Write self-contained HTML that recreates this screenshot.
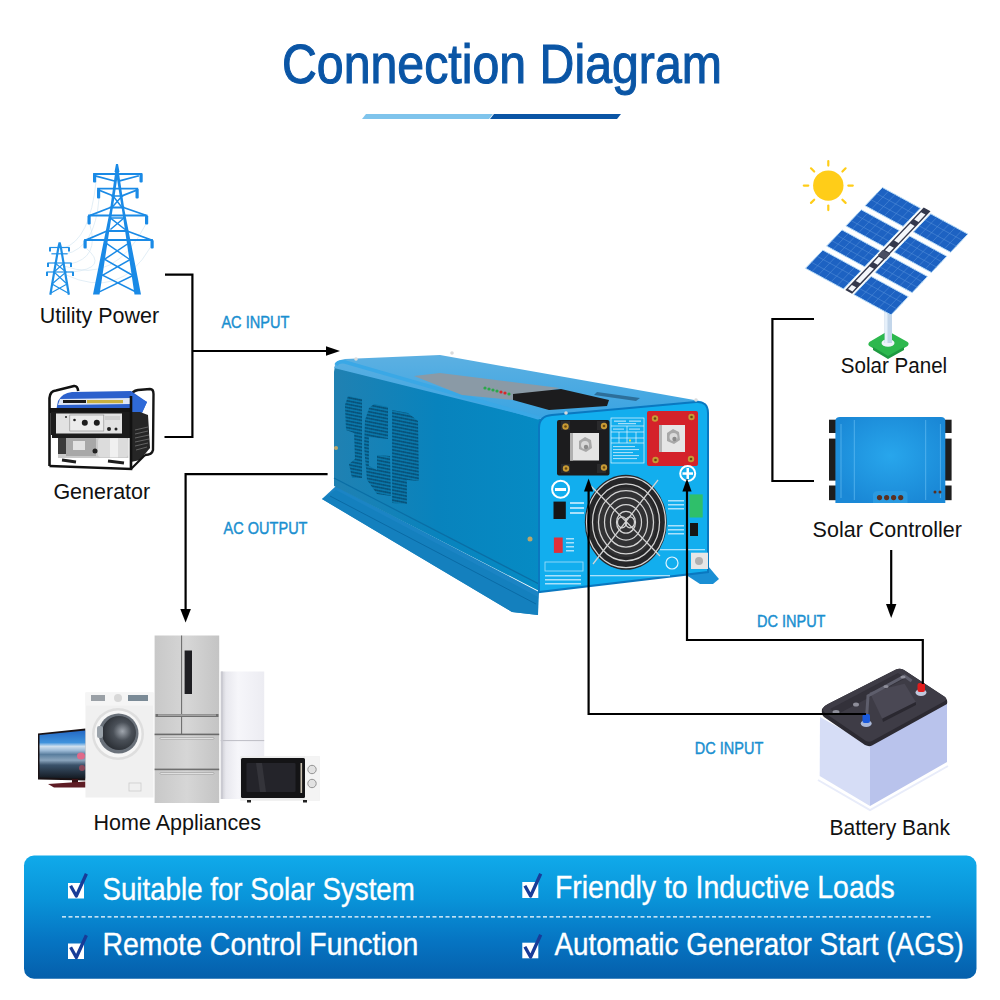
<!DOCTYPE html>
<html><head><meta charset="utf-8">
<style>
html,body{margin:0;padding:0;background:#fff;width:1000px;height:1000px;overflow:hidden}
svg{display:block}
text{font-family:"Liberation Sans",sans-serif}
</style></head>
<body>
<svg width="1000" height="1000" viewBox="0 0 1000 1000">
<defs>
<linearGradient id="banner" x1="0" y1="0" x2="0" y2="1">
<stop offset="0" stop-color="#10aaea"/>
<stop offset="0.35" stop-color="#0994d9"/>
<stop offset="0.7" stop-color="#0674c2"/>
<stop offset="1" stop-color="#055fab"/>
</linearGradient>

<linearGradient id="sideg" x1="0" y1="0" x2="1" y2="0">
<stop offset="0" stop-color="#2081b2"/><stop offset="0.5" stop-color="#0883bd"/><stop offset="1" stop-color="#068bc4"/>
</linearGradient>
<linearGradient id="topg" x1="0" y1="0" x2="0" y2="1">
<stop offset="0" stop-color="#5cb0e2"/><stop offset="1" stop-color="#3aa4e2"/>
</linearGradient>
<pattern id="vent" width="2" height="3.35" patternUnits="userSpaceOnUse" patternTransform="skewY(11)">
<rect x="0" y="0" width="2" height="3.35" fill="#0a86bd"/>
<rect x="0.4" y="0.6" width="1.25" height="2.2" fill="#06304e"/>
</pattern>

<linearGradient id="tvg" x1="0" y1="0" x2="0" y2="1">
<stop offset="0" stop-color="#2468c4"/><stop offset="0.25" stop-color="#3e92dc"/><stop offset="0.33" stop-color="#cfe0ee"/><stop offset="0.42" stop-color="#9ab8d4"/><stop offset="0.5" stop-color="#5a7e9e"/><stop offset="0.62" stop-color="#8aa4bc"/><stop offset="0.72" stop-color="#3a526a"/><stop offset="1" stop-color="#141a22"/>
</linearGradient>
<linearGradient id="steel" x1="0" y1="0" x2="1" y2="0">
<stop offset="0" stop-color="#c8c8c8"/><stop offset="0.5" stop-color="#d6d6d6"/><stop offset="1" stop-color="#c4c4c4"/>
</linearGradient>
<linearGradient id="whitef" x1="0" y1="0" x2="1" y2="0">
<stop offset="0" stop-color="#c8c8ce"/><stop offset="0.12" stop-color="#e8e8ee"/><stop offset="0.4" stop-color="#f6f6fa"/><stop offset="1" stop-color="#ececf2"/>
</linearGradient>

<linearGradient id="pv" x1="0" y1="0" x2="1" y2="1">
<stop offset="0" stop-color="#2167c0"/><stop offset="1" stop-color="#1955b0"/>
</linearGradient>
<radialGradient id="ctrlg" cx="0.5" cy="0.45" r="0.6">
<stop offset="0" stop-color="#28a6ec"/><stop offset="1" stop-color="#1a88d6"/>
</radialGradient>
<radialGradient id="drum" cx="0.6" cy="0.45" r="0.6"><stop offset="0" stop-color="#a0a6ae"/><stop offset="0.45" stop-color="#4a5058"/><stop offset="1" stop-color="#2a2e34"/></radialGradient>
</defs>
<!-- Title -->
<text id="t-title" font-size="55" fill="#0a55a5" stroke="#0a55a5" stroke-width="1.1" transform="translate(282 83) scale(0.8776 1)">Connection Diagram</text>
<polygon points="366,114 493,114 489,119 362,119" fill="#7fc4ec"/>
<polygon points="494,114 621,114 617,119 490,119" fill="#0a55a5"/>


<!-- INVERTER -->
<g id="inverter">
<!-- foot flange left -->
<polygon points="322,499 336,486 539,592 538,615 512,612" fill="#1b84c4"/>
<polygon points="322,499 336,490 538,597 538,615 512,612" fill="#1480be"/>
<line x1="330" y1="496" x2="536" y2="604" stroke="#0a6aa5" stroke-width="1"/>
<!-- side face -->
<path d="M334,372 Q334,362 343,364 L541,419 L541,592 L334,486 Z" fill="url(#sideg)"/>
<line x1="334" y1="478" x2="539" y2="584" stroke="#0a6ea5" stroke-width="1.2"/>
<!-- top face -->
<path d="M334,368 Q335,360 345,359 L440,355 L700,401 Q708,403 706,410 L539,419 Z" fill="url(#topg)"/>
<!-- rounded edge highlight between top and side -->
<path d="M336,365 Q338,361 345,362 L539,418" stroke="#3aa8e6" stroke-width="3.5" fill="none"/>
<!-- grey display strip -->
<polygon points="414,376 440,373 560,388 512,400 462,395" fill="#8a9aa6"/>
<polygon points="513,394 561,389 609,400 607,406 549,410 513,400" fill="#1c1c1e"/>
<g fill="#2aa84a"><circle cx="485" cy="388" r="1.6"/><circle cx="489" cy="389" r="1.6"/><circle cx="493" cy="390" r="1.6"/><circle cx="497" cy="391" r="1.6"/></g>
<g fill="#d8262a"><circle cx="501" cy="392" r="1.6"/><circle cx="505" cy="393" r="1.6"/></g>
<circle cx="509" cy="394" r="1.6" fill="#2aa84a"/>
<polygon points="597,392 640,398 636,401 594,395" fill="#2d6f9a"/>
<!-- right foot -->
<polygon points="680,571 708,566 719,579 713,584 700,584" fill="#1a8fd4"/>
<!-- front face -->
<path d="M539,428 Q539,416 552,415 L696,402 Q708,401 708,413 L708,572 L539,592 Z" fill="#12aeee"/>
<path d="M539,428 Q539,416 552,415 L696,402 Q708,401 708,413 L708,572 L539,592 Z" fill="none" stroke="#0a78c0" stroke-width="2"/>
<!-- black terminal -->
<rect x="557" y="420" width="52.5" height="55.5" rx="2" fill="#1c1c1e"/>
<rect x="561" y="421" width="9" height="9" fill="#2a2a2c"/><rect x="597" y="421" width="9" height="9" fill="#2a2a2c"/>
<rect x="561" y="464" width="9" height="9" fill="#2a2a2c"/><rect x="597" y="464" width="9" height="9" fill="#2a2a2c"/>
<rect x="570" y="433" width="29" height="27.5" fill="#e4e4e4"/>
<rect x="570" y="433" width="3" height="27.5" fill="#b0b0b0"/>
<polygon points="579,441 585,437 591,440 592,448 586,452 579,449" fill="#a8a8a8"/>
<circle cx="585" cy="445" r="4" fill="#d8d8d8"/><circle cx="586" cy="447" r="2.2" fill="#8a8a8a"/>
<g fill="#c89a34"><circle cx="565.5" cy="426.5" r="3.2"/><circle cx="604" cy="426" r="3.2"/><circle cx="566" cy="468.5" r="3.2"/><circle cx="604" cy="467.5" r="3.2"/></g>
<g fill="#6a4a10"><circle cx="565.5" cy="426.5" r="1.3"/><circle cx="604" cy="426" r="1.3"/><circle cx="566" cy="468.5" r="1.3"/><circle cx="604" cy="467.5" r="1.3"/></g>
<!-- label box -->
<g fill="none" stroke="#e6f6ff" stroke-width="0.7">
<rect x="611" y="418" width="33" height="45"/>
<line x1="611" y1="426" x2="644" y2="426"/><line x1="611" y1="432" x2="644" y2="432"/><line x1="611" y1="438" x2="644" y2="438"/><line x1="611" y1="443" x2="644" y2="443"/>
<line x1="627" y1="426" x2="627" y2="443"/><line x1="619" y1="432" x2="619" y2="443"/><line x1="636" y1="432" x2="636" y2="443"/>
</g>
<g fill="#d8f0ff" opacity="0.75">
<rect x="614" y="420.5" width="12" height="1.3"/><rect x="629" y="420.5" width="12" height="1.3"/><rect x="618" y="423" width="18" height="1.2"/>
<rect x="613" y="428.5" width="11" height="1.2"/><rect x="629" y="428.5" width="11" height="1.2"/>
<rect x="613" y="446" width="22" height="1.1"/><rect x="613" y="449" width="26" height="1.1"/><rect x="613" y="452" width="20" height="1.1"/><rect x="613" y="455" width="26" height="1.1"/><rect x="613" y="458" width="24" height="1.1"/>
</g>
<rect x="629" y="439.5" width="2" height="2" fill="#f0e040"/>
<!-- red terminal -->
<rect x="647" y="411" width="51" height="55" rx="2" fill="#d4222a"/>
<rect x="659" y="425" width="26" height="27" fill="#e6e6e6"/>
<rect x="659" y="425" width="3" height="27" fill="#b4b4b4"/>
<polygon points="667,433 673,429 679,432 680,440 674,444 667,441" fill="#a8a8a8"/>
<circle cx="673.5" cy="437" r="4" fill="#dadada"/><circle cx="674.5" cy="439" r="2.2" fill="#8a8a8a"/>
<g fill="#c89a34"><circle cx="655" cy="418.5" r="3.2"/><circle cx="691.5" cy="417" r="3.2"/><circle cx="655.5" cy="460" r="3.2"/><circle cx="691" cy="459" r="3.2"/></g>
<g fill="#6a4a10"><circle cx="655" cy="418.5" r="1.3"/><circle cx="691.5" cy="417" r="1.3"/><circle cx="655.5" cy="460" r="1.3"/><circle cx="691" cy="459" r="1.3"/></g>
<!-- minus / plus circles -->
<circle cx="560.6" cy="489.3" r="8.5" fill="none" stroke="#fff" stroke-width="2"/>
<rect x="555" y="488" width="11" height="3" fill="#fff"/>
<circle cx="687.7" cy="473.5" r="7.5" fill="none" stroke="#fff" stroke-width="2"/>
<rect x="682.5" y="472.3" width="10.5" height="2.5" fill="#fff"/>
<rect x="686.5" y="468" width="2.5" height="11" fill="#fff"/>
<!-- fan -->
<ellipse cx="625.8" cy="522.3" rx="41" ry="47.5" fill="#262628"/>
<ellipse cx="626" cy="522.3" rx="30" ry="35" fill="#323234"/>
<g fill="none" stroke="#d4d4d4" stroke-width="1.25">
<ellipse cx="626" cy="522.3" rx="39.5" ry="45.4"/><ellipse cx="626" cy="522.3" rx="33.5" ry="38.5"/><ellipse cx="626" cy="522.3" rx="27.5" ry="31.6"/><ellipse cx="626" cy="522.3" rx="21.5" ry="24.7"/><ellipse cx="626" cy="522.3" rx="15.5" ry="17.8"/><ellipse cx="626" cy="522.3" rx="9.5" ry="10.9"/>
<ellipse cx="622" cy="522.3" rx="4.5" ry="5.5"/><ellipse cx="630" cy="522.3" rx="4.5" ry="5.5"/>
<line x1="591" y1="486" x2="660" y2="556"/><line x1="658" y1="480" x2="593" y2="564"/>
</g>
<!-- small ports -->
<rect x="553.5" y="501.6" width="12.3" height="17.4" fill="#161616"/>
<rect x="553.9" y="537.5" width="8.8" height="15.4" fill="#e0303a"/>
<rect x="689.5" y="494.4" width="13.2" height="23.1" fill="#2fbf6a"/>
<rect x="690" y="523" width="8" height="13" fill="#161616"/>
<rect x="691" y="552.7" width="17" height="16.3" fill="#e6e6e6"/>
<circle cx="699" cy="561" r="4" fill="#b0b0b0"/>
<circle cx="672" cy="563" r="6" fill="none" stroke="#dff3ff" stroke-width="1.2"/>
<!-- tiny label text blocks -->
<g fill="#cfeeff" opacity="0.8">
<rect x="570" y="502" width="14" height="2"/><rect x="570" y="507" width="14" height="2"/><rect x="570" y="512" width="14" height="2"/>
<rect x="566" y="538" width="8" height="1.5"/><rect x="566" y="542" width="8" height="1.5"/><rect x="566" y="546" width="8" height="1.5"/><rect x="566" y="550" width="8" height="1.5"/>
<rect x="545" y="562" width="38" height="9" fill="none" stroke="#cfeeff" stroke-width="0.8"/>
<rect x="545" y="575" width="36" height="1.5"/><rect x="545" y="579" width="36" height="1.5"/><rect x="545" y="583" width="36" height="1.5"/>
<rect x="590" y="575" width="80" height="1.3"/>
<rect x="668" y="500" width="16" height="1.5"/><rect x="668" y="504" width="16" height="1.5"/><rect x="668" y="508" width="16" height="1.5"/>
<rect x="668" y="525" width="16" height="1.5"/><rect x="668" y="529" width="16" height="1.5"/><rect x="668" y="533" width="16" height="1.5"/>
<rect x="660" y="549" width="45" height="1.3"/>
</g>
<!-- vents SGP -->
<g fill="url(#vent)">
<path d="M348,396 L362,399 L362,478 L352,478 L349,464 L355,459 L354,433 L346,430 L345,405 Z"/>
<path d="M374,404 L388,407 L388,439 L378,438 L369,437 L369,466 L377,470 L377,455 L390,456 L391,496 L377,494 L367,480 L364,446 L365,420 L369,408 Z"/>
<path d="M392,410 L408,413 L418,421 L419,481 L407,480 L407,504 L392,503 Z"/>
</g>
<!-- screws -->
<g fill="#d9dadb"><circle cx="356" cy="359" r="1.8"/><circle cx="452" cy="353" r="1.8"/><circle cx="696" cy="400" r="1.8"/><circle cx="566" cy="413" r="1.8"/></g>
<circle cx="336" cy="448" r="2" fill="#b9a66a"/>
<circle cx="530" cy="539" r="2.5" fill="#b9a66a"/>
</g>


<!-- TOWERS -->
<g id="towers" stroke="#1e8fe6" fill="none" stroke-linecap="square">
<!-- wires -->
<g stroke="#cfe3f0" stroke-width="0.6">
<path d="M64,248 Q90,240 96,182"/><path d="M66,254 Q95,248 99,199"/><path d="M70,264 Q100,258 90,225"/><path d="M72,272 Q110,268 86,248"/>
<path d="M66,275 Q120,300 150,248"/><path d="M64,266 Q115,285 146,224"/>
</g>
<!-- big tower legs -->
<g fill="#1a8ae6" stroke="none">
<polygon points="115.5,170 118.5,170 112.5,210 99.5,294.5 93,294.5 110,210"/>
<polygon points="115.5,170 118.5,170 124.5,210 141,294.5 134.5,294.5 122,210"/>
<polygon points="116,164 118,164 119.5,172 114.5,172"/>
</g>
<g stroke="#1a8ae6" stroke-width="1.8">
<path d="M94,174 L141.5,174"/><path d="M96,176 L114.5,181 M138,176 L119.5,181"/>
<path d="M98,188.7 L137.3,188.7"/><path d="M100,190.5 L113.5,196 M136,190.5 L121.5,196"/>
<path d="M89,215.5 L146.5,215.5"/><path d="M91,215 L110.5,207.5 M145,215 L123.5,207.5 M110.5,207.5 L123.5,207.5"/>
<path d="M85,240 L152,240"/><path d="M87,239.5 L107,231 M150,239.5 L127,231 M107,231 L127,231"/>
</g>
<g fill="#1a8ae6" stroke="none">
<rect x="93" y="174" width="3.2" height="8.4" rx="1"/><rect x="139.5" y="174" width="3.2" height="8.4" rx="1"/>
<rect x="97" y="188.7" width="3.2" height="9.8" rx="1"/><rect x="135.5" y="188.7" width="3.2" height="9.8" rx="1"/>
<rect x="87.5" y="215.5" width="3.2" height="9" rx="1"/><rect x="145" y="215.5" width="3.2" height="9" rx="1"/>
<rect x="83.5" y="240" width="3.2" height="8.5" rx="1"/><rect x="150.5" y="240" width="3.2" height="8.5" rx="1"/>
</g>
<g stroke="#1a8ae6" stroke-width="1.5">
<path d="M113,196 L122,207.5 M122,196 L112,207.5"/>
<path d="M110.5,218 L124.5,229 M124,218 L111,229"/>
<path d="M106,243 L129,259 M129,243 L105,259"/>
<path d="M104,259 L132,275 M131,259 L103,275"/>
<path d="M102,275 L136,292 M134,275 L99,292"/>
<path d="M112,196 L122.5,196 M111,218 L124,218"/>
</g>
<!-- small tower -->
<path d="M50.5,293.7 L58.3,248 L59.6,242.6 L61,248 L68.7,293.7" stroke-width="2.2"/>
<g stroke-width="1.2">
<path d="M50,247.5 L69,247.5"/><path d="M52,253.8 L67,253.8"/><path d="M48,263 L71,263"/><path d="M47,272 L73,272"/>
<path d="M55,263 L66,272 M64,263 L54,272 M54,272 L67,284 M66,272 L52,284 M52,284 L68,293 M67,284 L51,293"/>
</g>
<g fill="#1e8fe6" stroke="none">
<rect x="49" y="247.5" width="2" height="4"/><rect x="68" y="247.5" width="2" height="4"/>
<rect x="47" y="263" width="2" height="4"/><rect x="70" y="263" width="2" height="4"/>
<rect x="46" y="272" width="2" height="4"/><rect x="72" y="272" width="2" height="4"/>
</g>
</g>


<!-- GENERATOR -->
<g id="generator">
<!-- rear frame -->
<path d="M131,396 Q132,391 138,390 L150,389 Q153.5,389 153.5,394 L153,450 Q152,455 145,455" stroke="#151515" stroke-width="2.4" fill="none"/>
<!-- blue tank -->
<path d="M58,401 Q62,393 72,392 L131,391 L147,402 L141,415 L56,411 Z" fill="#2b60cc"/>
<path d="M60,399 L131,398 L131,404 L58,405 Z" fill="#dfe6f4"/>
<path d="M131,393 L147,402 L141,415 L131,415 Z" fill="#2f6ad8"/>
<rect x="63" y="400" width="23" height="3" fill="#1a1a1a"/>
<rect x="87" y="400" width="36" height="3.2" fill="#c8b040"/>
<!-- black border -->
<rect x="50" y="408" width="81" height="5" fill="#151515"/>
<!-- engine side black -->
<path d="M131,412 L140,412 L148,415 L150,448 L140,460 L131,462 Z" fill="#262626"/>
<path d="M135,430 L148,427 M135,434 L148,431 M135,438 L149,435 M135,442 L149,439 M135,446 L148,443 M136,450 L147,447" stroke="#6a6a6a" stroke-width="0.9"/>
<!-- control panel -->
<rect x="51" y="412" width="80" height="23" fill="#1c1c1c"/>
<rect x="56" y="413.5" width="66" height="20" fill="#e2e2e2"/>
<rect x="69.8" y="415" width="34" height="16" fill="#ececec" stroke="#8a8a8a" stroke-width="0.6"/>
<circle cx="84.8" cy="422.8" r="3" fill="#1e1e1e"/><circle cx="96.8" cy="422.8" r="3" fill="#1e1e1e"/>
<circle cx="74.5" cy="420" r="1.3" fill="#222"/><circle cx="66" cy="417" r="1" fill="#222"/>
<circle cx="109" cy="429" r="2" fill="#222"/><circle cx="116" cy="429" r="1.5" fill="#222"/>
<rect x="105" y="416" width="15" height="4" fill="#d0d0d0"/>
<!-- engine -->
<rect x="52" y="435" width="79" height="3" fill="#1c1c1c"/>
<path d="M58,438 L128.4,438 L128.4,458 L58,458 Z" fill="#c9c9c9"/>
<rect x="98" y="438.3" width="30" height="19" rx="3" fill="#dcdcdc"/>
<rect x="110" y="438.3" width="8" height="19" fill="#f0f0f0"/>
<rect x="66" y="438" width="30" height="18" fill="#a8a8a8"/>
<rect x="73" y="441" width="12" height="9" fill="#e2e2e2"/>
<circle cx="95" cy="451" r="2.5" fill="#222"/>
<rect x="58" y="438" width="8" height="16" fill="#3a3a3a"/>
<!-- front frame -->
<path d="M49.5,466 L49.5,398 Q50,391 56,390.5 L74,386 Q77.5,385.5 78.2,391" stroke="#111" stroke-width="2.6" fill="none"/>
<path d="M49.5,466 L131,469 L131,396" stroke="#111" stroke-width="2.6" fill="none"/>
<path d="M131,469 L145,455" stroke="#111" stroke-width="2.2" fill="none"/>
<path d="M62,460 L76,462 M108,461 L124,463" stroke="#1e1e1e" stroke-width="3.2"/>
</g>

<!-- APPLIANCES -->
<g id="appliances">
<!-- TV -->
<polygon points="38,733.5 85.5,728.5 85.5,780.5 38,779.5" fill="#1a1214"/>
<polygon points="39.5,735 85.5,730.5 85.5,778.5 39.5,777.5" fill="url(#tvg)"/>
<ellipse cx="81" cy="756" rx="4" ry="3.5" fill="#e06a8a"/>
<ellipse cx="82" cy="768" rx="3" ry="3" fill="#a04a5a" opacity="0.8"/>
<rect x="72" y="779" width="6" height="4" fill="#3a1216"/>
<polygon points="48,784 85.5,781.5 85.5,787.5 54,787.5" fill="#5e1c24"/>
<!-- washing machine -->
<rect x="85.5" y="692.5" width="68" height="105" fill="#f0f0f0"/>
<rect x="85.5" y="692.5" width="68" height="13" fill="#f5f5f5"/>
<rect x="91" y="695" width="14" height="6" fill="#9aa0a6"/>
<circle cx="118" cy="698" r="4" fill="#d8d8d8"/>
<rect x="128" y="695" width="20" height="6" fill="#7a8a96"/>
<circle cx="118" cy="734" r="26" fill="#dedede"/>
<circle cx="118" cy="734" r="23.5" fill="#f6f6f6"/>
<circle cx="118.5" cy="733.5" r="20" fill="#6a717a"/>
<circle cx="119" cy="733" r="17" fill="url(#drum)"/>
<rect x="97" y="726" width="6" height="12" rx="2" fill="#9aa2aa"/>
<rect x="129" y="783" width="12" height="8" fill="none" stroke="#ccc" stroke-width="0.8"/>
<!-- big fridge -->
<rect x="154.6" y="635.5" width="64.6" height="167.5" fill="url(#steel)"/>
<line x1="181.6" y1="635.5" x2="181.6" y2="734" stroke="#5a5a5a" stroke-width="0.9"/>
<rect x="155.5" y="714" width="63" height="3" fill="#707070"/>
<rect x="158" y="714.5" width="58" height="1.2" fill="#b8b8b8"/>
<rect x="154.6" y="733.6" width="64.6" height="1.6" fill="#6a6a6a"/>
<rect x="154.6" y="768.6" width="64.6" height="1.6" fill="#6f6f6f"/>
<rect x="160" y="737.5" width="54" height="1.8" rx="0.9" fill="#e8e8e8" stroke="#8a8a8a" stroke-width="0.5"/>
<rect x="160" y="772.5" width="54" height="1.8" rx="0.9" fill="#e8e8e8" stroke="#8a8a8a" stroke-width="0.5"/>
<rect x="184.6" y="650.5" width="7.4" height="43.5" fill="#1e1e22"/>
<!-- white fridge -->
<rect x="220.7" y="671.5" width="43.5" height="127.5" fill="url(#whitef)"/>
<line x1="220.7" y1="740.6" x2="264.2" y2="740.6" stroke="#bcbcc4" stroke-width="1"/>
<line x1="222" y1="671.5" x2="222" y2="799" stroke="#c8c8d0" stroke-width="1.5"/>
<!-- microwave -->
<rect x="240.2" y="756.2" width="79.6" height="44.5" fill="#ececec"/>
<rect x="241" y="758" width="64" height="40" rx="1.5" fill="#141416"/>
<rect x="246.5" y="763" width="49" height="29" rx="1" fill="#24242a"/>
<polygon points="256,763 262,763 266,792 260,792" fill="#34343a"/>
<rect x="300.5" y="763" width="1.6" height="30" fill="#c8c0b0"/>
<rect x="305" y="756.2" width="14.8" height="44.5" fill="#f4f4f4"/>
<circle cx="312" cy="769.5" r="4.2" fill="#e2e2e2" stroke="#8a8a8a" stroke-width="0.9"/>
<circle cx="312" cy="783.5" r="4.2" fill="#e2e2e2" stroke="#8a8a8a" stroke-width="0.9"/>
<rect x="247" y="800" width="4" height="2.5" fill="#222"/><rect x="303" y="800" width="4" height="2.5" fill="#222"/>
</g>

<!-- SOLAR -->
<g id="solar">
<circle cx="828.3" cy="185.6" r="15.2" fill="#ffcd18"/>
<g stroke="#ffcd18" stroke-width="2.2" stroke-linecap="round"><line x1="848.3" y1="185.6" x2="852.8" y2="185.6"/><line x1="842.4" y1="199.7" x2="845.6" y2="202.9"/><line x1="828.3" y1="205.6" x2="828.3" y2="210.1"/><line x1="814.2" y1="199.7" x2="811.0" y2="202.9"/><line x1="808.3" y1="185.6" x2="803.8" y2="185.6"/><line x1="814.2" y1="171.5" x2="811.0" y2="168.3"/><line x1="828.3" y1="165.6" x2="828.3" y2="161.1"/><line x1="842.4" y1="171.5" x2="845.6" y2="168.3"/></g>
<path d="M871,344 L888,334 L906,344 L888,354 Z" fill="#2db84e" stroke="#2db84e" stroke-width="5" stroke-linejoin="round"/>
<path d="M873,347 L888,356 L904,347 L904,350 L888,359 L873,350 Z" fill="#1e9a40"/>
<ellipse cx="888" cy="343" rx="6.5" ry="3.8" fill="#eef4fa"/>
<rect x="884.5" y="302" width="7.5" height="41" fill="#c3d6ea"/><rect x="885" y="302" width="2.5" height="41" fill="#e6f0fa"/>
<g fill="#1d62c2" stroke="#b7dbf7" stroke-width="1"><polygon points="882.4,187.5 920.4,208.2 903.1,226.4 865.1,205.7"/><polygon points="861.3,209.7 899.3,230.5 883.9,246.6 845.9,225.9"/><polygon points="842.0,229.9 880.1,250.7 864.7,266.8 826.6,246.1"/><polygon points="822.8,250.1 860.9,270.9 843.5,289.0 805.5,268.3"/><polygon points="930.7,213.8 967.9,234.1 950.6,252.3 913.4,232.0"/><polygon points="909.6,236.0 946.8,256.3 931.4,272.5 894.2,252.2"/><polygon points="890.3,256.2 927.5,276.5 912.1,292.7 875.0,272.4"/><polygon points="871.1,276.4 908.3,296.7 891.0,314.9 853.8,294.6"/></g>
<g stroke="#5490d8" stroke-width="0.55"><line x1="888.7" y1="191.0" x2="871.4" y2="209.1"/><line x1="895.1" y1="194.4" x2="877.8" y2="212.6"/><line x1="901.4" y1="197.9" x2="884.1" y2="216.0"/><line x1="907.8" y1="201.3" x2="890.5" y2="219.5"/><line x1="914.1" y1="204.8" x2="896.8" y2="223.0"/><line x1="876.6" y1="193.6" x2="914.7" y2="214.3"/><line x1="870.9" y1="199.6" x2="908.9" y2="220.4"/><line x1="867.6" y1="213.2" x2="852.2" y2="229.3"/><line x1="873.9" y1="216.6" x2="858.6" y2="232.8"/><line x1="880.3" y1="220.1" x2="864.9" y2="236.2"/><line x1="886.6" y1="223.5" x2="871.2" y2="239.7"/><line x1="893.0" y1="227.0" x2="877.6" y2="243.2"/><line x1="856.1" y1="215.1" x2="894.2" y2="235.8"/><line x1="851.0" y1="220.5" x2="889.0" y2="241.2"/><line x1="848.4" y1="233.4" x2="833.0" y2="249.5"/><line x1="854.7" y1="236.8" x2="839.3" y2="253.0"/><line x1="861.1" y1="240.3" x2="845.7" y2="256.4"/><line x1="867.4" y1="243.7" x2="852.0" y2="259.9"/><line x1="873.7" y1="247.2" x2="858.4" y2="263.4"/><line x1="836.9" y1="235.3" x2="874.9" y2="256.0"/><line x1="831.8" y1="240.7" x2="869.8" y2="261.4"/><line x1="829.1" y1="253.6" x2="811.8" y2="271.8"/><line x1="835.5" y1="257.0" x2="818.2" y2="275.2"/><line x1="841.8" y1="260.5" x2="824.5" y2="278.7"/><line x1="848.2" y1="263.9" x2="830.9" y2="282.1"/><line x1="854.5" y1="267.4" x2="837.2" y2="285.6"/><line x1="817.0" y1="256.2" x2="855.1" y2="276.9"/><line x1="811.3" y1="262.2" x2="849.3" y2="283.0"/><line x1="936.9" y1="217.2" x2="919.6" y2="235.4"/><line x1="943.1" y1="220.6" x2="925.8" y2="238.8"/><line x1="949.3" y1="224.0" x2="932.0" y2="242.1"/><line x1="955.5" y1="227.3" x2="938.2" y2="245.5"/><line x1="961.7" y1="230.7" x2="944.4" y2="248.9"/><line x1="924.9" y1="219.9" x2="962.1" y2="240.2"/><line x1="919.2" y1="225.9" x2="956.4" y2="246.2"/><line x1="915.8" y1="239.4" x2="900.4" y2="255.6"/><line x1="922.0" y1="242.8" x2="906.6" y2="259.0"/><line x1="928.2" y1="246.2" x2="912.8" y2="262.3"/><line x1="934.4" y1="249.6" x2="919.0" y2="265.7"/><line x1="940.6" y1="252.9" x2="925.2" y2="269.1"/><line x1="904.4" y1="241.4" x2="941.6" y2="261.7"/><line x1="899.3" y1="246.8" x2="936.5" y2="267.1"/><line x1="896.5" y1="259.6" x2="881.2" y2="275.8"/><line x1="902.7" y1="263.0" x2="887.4" y2="279.2"/><line x1="908.9" y1="266.4" x2="893.6" y2="282.5"/><line x1="915.1" y1="269.8" x2="899.8" y2="285.9"/><line x1="921.3" y1="273.1" x2="905.9" y2="289.3"/><line x1="885.2" y1="261.6" x2="922.4" y2="281.9"/><line x1="880.1" y1="267.0" x2="917.3" y2="287.3"/><line x1="877.3" y1="279.8" x2="860.0" y2="298.0"/><line x1="883.5" y1="283.2" x2="866.2" y2="301.4"/><line x1="889.7" y1="286.6" x2="872.4" y2="304.8"/><line x1="895.9" y1="290.0" x2="878.6" y2="308.1"/><line x1="902.1" y1="293.3" x2="884.8" y2="311.5"/><line x1="865.3" y1="282.5" x2="902.5" y2="302.8"/><line x1="859.6" y1="288.6" x2="896.8" y2="308.8"/></g>
<polygon points="923.7,207.6 930.5,211.3 852.1,293.7 845.3,290.0" fill="#34384c"/>
<polygon points="921.1,212.3 925.4,214.6 918.5,221.9 914.2,219.6" fill="#f4f6fa"/><polygon points="910.4,223.6 914.6,225.9 898.5,242.9 894.2,240.6" fill="#f4f6fa"/><polygon points="889.6,245.4 893.9,247.8 889.3,252.6 885.0,250.3" fill="#f4f6fa"/><polygon points="878.8,256.7 883.1,259.1 877.7,264.7 873.5,262.4" fill="#f4f6fa"/><polygon points="869.6,266.4 873.9,268.8 860.0,283.3 855.8,281.0" fill="#f4f6fa"/><polygon points="851.9,285.0 856.2,287.3 852.4,291.4 848.1,289.1" fill="#f4f6fa"/>
<polygon points="882.5,250.1 890.2,254.3 885.6,259.2 877.9,255.0" fill="#4a4e62"/>
</g>

<!-- CONTROLLER -->
<g id="controller">
<g fill="#1e1e1e">
<rect x="829" y="419.7" width="8" height="13.3"/><rect x="829" y="438.6" width="8" height="42"/><rect x="829" y="485.5" width="8" height="14.7"/>
<rect x="943" y="419.7" width="8.6" height="13.3"/><rect x="943" y="438.6" width="8.6" height="42"/><rect x="943" y="485.5" width="8.6" height="14.7"/>
</g>
<path d="M835.4,421 Q835.4,417 840,417 L941,417 Q945.3,417 945.3,421 L945.3,503 L835.4,503 Z" fill="url(#ctrlg)"/>
<g stroke="#6cc2f5" stroke-width="0.8" opacity="0.8"><line x1="841" y1="424" x2="841" y2="498"/><line x1="854.3" y1="420" x2="854.3" y2="500"/><line x1="925.7" y1="420" x2="925.7" y2="500"/><line x1="940.4" y1="424" x2="940.4" y2="498"/></g>
<path d="M873,503 L873,494 Q874,491 878,491 L903,491 Q907.5,491 907.5,495 L907.5,503 Z" fill="#2a9ae0"/>
<g fill="#5a3020"><circle cx="879.5" cy="497.6" r="2.6"/><circle cx="886.6" cy="497.6" r="2.6"/><circle cx="893.6" cy="497.6" r="2.6"/><circle cx="900.7" cy="497.6" r="2.6"/></g>
<g fill="#5a3020"><circle cx="935" cy="492" r="1.5"/><circle cx="940" cy="492" r="1.5"/></g>
</g>

<!-- BATTERY -->
<g id="battery">
<path d="M820,717 L870,745 L870,806 L819.7,776 Z" fill="#d6ddf6"/>
<path d="M870,745 L947,701 L947,762 L870,806 Z" fill="#b9c3ec"/>
<path d="M818,780 L870,810 L948,766" stroke="#e8ecfa" stroke-width="2" fill="none"/>
<path d="M822,709 Q824,706 828,704 L896,669.5 Q900,668 904,670 L945,697 Q948,700 947,704 L872,745.5 Q869,747 865,745 L824,717 Q821,714 822,709 Z" fill="#2c2a32"/>
<path d="M823,708 Q824,706 828,704 L896,669.5 Q900,668 904,670 L945,697 Q947,699 945,701 L872,741 Q869,742.5 866,741 L825,713 Q822,710 823,708 Z" fill="#3e3c46"/>
<path d="M830,709 L898,673 L906,678 L838,714 Z" fill="#33313a"/>
<path d="M869.6,692.2 L904.6,683.8 L915.8,702 L882.2,718.8 Z" fill="#4a4854"/>
<path d="M882.2,718.8 L915.8,702 L916,705 L883,722 Z" fill="#2a2830"/>
<path d="M866.8,714 L868,696 L904.6,676 L911.6,681" stroke="#5e5e6c" stroke-width="3" fill="none"/>
<g fill="#8e8e9a"><ellipse cx="836" cy="712" rx="3.5" ry="2"/><ellipse cx="856" cy="704.5" rx="3" ry="2"/><ellipse cx="886" cy="686.5" rx="2.6" ry="1.6"/><ellipse cx="903" cy="677" rx="2.6" ry="1.6"/></g>
<ellipse cx="866.2" cy="723.5" rx="5.5" ry="3.5" fill="#aab8d8"/>
<rect x="862.5" y="714" width="7.5" height="9" rx="2" fill="#1a5adc"/>
<ellipse cx="921" cy="692.5" rx="5.5" ry="3.5" fill="#c0c8dc"/>
<rect x="917.5" y="683" width="7.5" height="9" rx="2" fill="#e01c1c"/>
</g>

<!-- lines -->
<g stroke="#000" stroke-width="2.2" fill="none">
<polyline points="165,274.6 192.4,274.6 192.4,437 164.5,437"/>
<line x1="192.4" y1="351" x2="328" y2="351"/>
<polyline points="327.6,474.2 185.6,474.2 185.6,612"/>
<polyline points="814,319 772.4,319 772.4,481 814,481"/>
<line x1="891.2" y1="550" x2="891.2" y2="606"/>
<polyline points="588.6,488 588.6,714 866,714"/>
<polyline points="687,488 687,640 922.8,640 922.8,684"/>
</g>
<g fill="#000">
<polygon points="340,351 326,346.2 326,355.8"/>
<polygon points="185.6,622.5 180.3,609 190.9,609"/>
<polygon points="891.2,618 886,604 896.4,604"/>
<polygon points="588.6,478.4 584,491.5 593.2,491.5"/>
<polygon points="687,478.4 682.4,491.5 691.6,491.5"/>
</g>

<!-- labels -->
<g fill="#111" font-size="21.5">
<text x="39.7" y="322.7">Utility Power</text>
<text x="53.4" y="498.9">Generator</text>
<text x="93.6" y="830">Home Appliances</text>
<text transform="translate(840.7 373.1) scale(0.9581 1)">Solar Panel</text>
<text x="812.6" y="537">Solar Controller</text>
<text transform="translate(829.5 834.8) scale(0.9790 1)">Battery Bank</text>
</g>
<g fill="#1a8fd0" stroke="#1a8fd0" stroke-width="0.45" font-size="17">
<text transform="translate(221.4 328) scale(0.8571 1)">AC INPUT</text>
<text transform="translate(223.6 533.6) scale(0.8551 1)">AC OUTPUT</text>
<text transform="translate(757 627.2) scale(0.8533 1)">DC INPUT</text>
<text transform="translate(694.8 754.2) scale(0.8533 1)">DC INPUT</text>
</g>

<!-- banner -->
<rect x="24" y="855.5" width="952.5" height="123.2" rx="10" fill="url(#banner)"/>
<line x1="62" y1="916.8" x2="933" y2="916.8" stroke="#fff" stroke-width="1.3" stroke-dasharray="4 2.5"/>
<g fill="#fff" stroke="#fff" stroke-width="0.35" font-size="32">
<text transform="translate(102.5 899.5) scale(0.8655 1)">Suitable for Solar System</text>
<text transform="translate(102.5 955.2) scale(0.8883 1)">Remote Control Function</text>
<text transform="translate(554.9 898.4) scale(0.8890 1)">Friendly to Inductive Loads</text>
<text transform="translate(554.4 954.8) scale(0.8722 1)">Automatic Generator Start (AGS)</text>
</g>
<g>
<rect x="68" y="883" width="16" height="15.5" fill="#fff"/>
<rect x="68" y="943.5" width="16" height="15.5" fill="#fff"/>
<rect x="522.3" y="882" width="16" height="16" fill="#fff"/>
<rect x="522.3" y="942.7" width="16" height="15.6" fill="#fff"/>
<polyline points="70.6,885.8 76.3,896.0 86.4,873.8" fill="none" stroke="#183c98" stroke-width="3.3" stroke-linejoin="round"/><polyline points="70.6,947.3 76.3,957.5 86.4,935.3" fill="none" stroke="#183c98" stroke-width="3.3" stroke-linejoin="round"/><polyline points="524.9,885.8 530.6,896.0 540.7,873.8" fill="none" stroke="#183c98" stroke-width="3.3" stroke-linejoin="round"/><polyline points="524.9,946.8 530.6,957.0 540.7,934.8" fill="none" stroke="#183c98" stroke-width="3.3" stroke-linejoin="round"/>
</g>
</svg>
</body></html>
